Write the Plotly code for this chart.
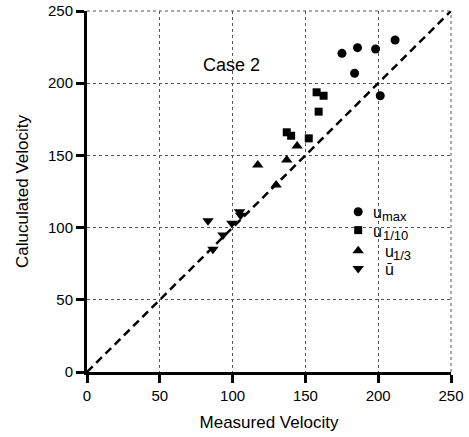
import plotly.graph_objects as go

# Measured vs. calculated velocity, Case 2
umax_meas = [175.1, 185.8, 198.2, 211.6, 183.8, 201.4]
umax_calc = [220.7, 224.6, 223.7, 229.9, 206.9, 191.3]

u110_meas = [157.7, 162.5, 159.1, 137.2, 140.2, 152.3]
u110_calc = [193.7, 191.3, 180.3, 166.0, 163.6, 161.8]

u13_meas = [144.3, 117.3, 137.2, 129.9]
u13_calc = [156.5, 143.4, 146.8, 129.5]

umean_meas = [83.1, 99.5, 104.8, 105.5, 93.4, 86.5]
umean_calc = [104.8, 103.0, 111.0, 108.5, 94.9, 85.0]

ref_line = [0, 250]
ticks = [0, 50, 100, 150, 200, 250]

series_main = ["u", "u", "u", "ū"]
series_sub = ["max", "1/10", "1/3", ""]
series_symbols = ["circle", "square", "triangle-up", "triangle-down"]
series_sizes = [9, 8, 10, 10]

FONT = "Arial, Liberation Sans, Helvetica, sans-serif"

fig = go.Figure()

# 1:1 reference line
fig.add_trace(go.Scatter(
    x=ref_line, y=ref_line, mode="lines",
    line=dict(color="black", width=2.5, dash="8px,5px"),
    showlegend=False, hoverinfo="skip"))

data = [(umax_meas, umax_calc), (u110_meas, u110_calc),
        (u13_meas, u13_calc), (umean_meas, umean_calc)]
for (xs, ys), sym, size, main, sub in zip(data, series_symbols, series_sizes,
                                          series_main, series_sub):
    fig.add_trace(go.Scatter(
        x=xs, y=ys, mode="markers", name=main + sub, showlegend=False,
        marker=dict(symbol=sym, size=size, color="black", line=dict(width=0))))

# Key: glyphs on an overlay axis in plot-fraction units, labels as annotations
key_x = 0.745
key_y = [0.444, 0.393, 0.336, 0.287]
key_main_x = [0.784, 0.784, 0.817, 0.817]
key_sub_x = [0.807, 0.810, 0.838, 0.838]

for sym, size, ky in zip(series_symbols, series_sizes, key_y):
    fig.add_trace(go.Scatter(
        x=[key_x], y=[ky], xaxis="x2", yaxis="y2", mode="markers",
        showlegend=False, hoverinfo="skip",
        marker=dict(symbol=sym, size=size, color="black", line=dict(width=0))))

for main, sub, mx, sx, ky in zip(series_main, series_sub, key_main_x,
                                 key_sub_x, key_y):
    fig.add_annotation(
        x=mx, y=ky, xref="paper", yref="paper", text=main, showarrow=False,
        xanchor="left", yanchor="middle", yshift=-1, borderpad=0,
        font=dict(family=FONT, size=16, color="black"))
    if sub:
        fig.add_annotation(
            x=sx, y=ky, xref="paper", yref="paper", text=sub, showarrow=False,
            xanchor="left", yanchor="middle", yshift=-5, borderpad=0,
            font=dict(family=FONT, size=13, color="black"))

axis_common = dict(
    range=[0, 250], tickvals=ticks, ticks="outside", ticklen=8,
    tickwidth=2.5, tickcolor="black", showline=True, linewidth=3,
    linecolor="black", showgrid=True, gridcolor="#555555",
    griddash="dot", gridwidth=1, zeroline=False, automargin=False,
    tickfont=dict(family=FONT, size=15, color="black"),
    title_font=dict(family=FONT, size=17, color="black"),
    fixedrange=True,
)

fig.update_xaxes(title_text="Measured Velocity", title_standoff=14, **axis_common)
fig.update_yaxes(title_text="Caluculated Velocity", title_standoff=16, **axis_common)

# Dotted frame along the 250 edges
for x0, y0, x1, y1 in [(0, 1, 1, 1), (1, 0, 1, 1)]:
    fig.add_shape(type="line", xref="paper", yref="paper",
                  x0=x0, y0=y0, x1=x1, y1=y1,
                  line=dict(color="#555555", width=1, dash="dot"))

fig.add_annotation(
    x=0.398, y=0.885, xref="paper", yref="paper", text="Case 2",
    showarrow=False, font=dict(family=FONT, size=18, color="black"))

fig.update_layout(
    width=469, height=437,
    margin=dict(l=87, r=18, t=11, b=65),
    paper_bgcolor="white", plot_bgcolor="white",
    showlegend=False,
    xaxis2=dict(overlaying="x", range=[0, 1], visible=False, fixedrange=True),
    yaxis2=dict(overlaying="y", range=[0, 1], visible=False, fixedrange=True),
)

fig.write_html("out.html")
